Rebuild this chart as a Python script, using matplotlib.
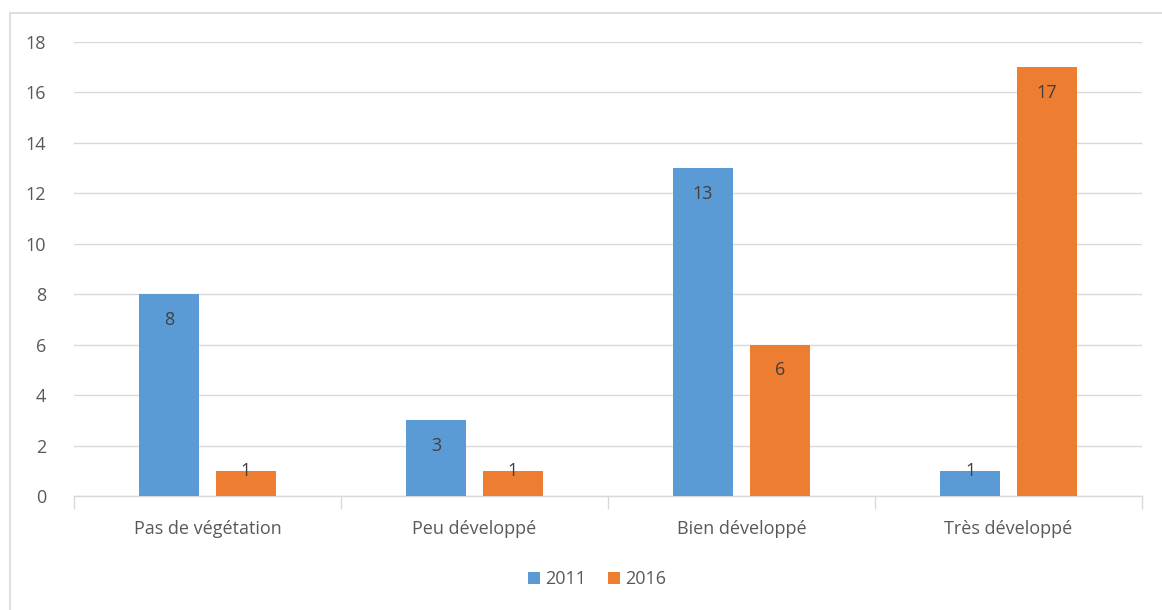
import matplotlib.pyplot as plt
from matplotlib.patches import Rectangle
import numpy as np

categories = ["Pas de végétation", "Peu développé", "Bien développé", "Très développé"]
v2011 = [8, 3, 13, 1]
v2016 = [1, 1, 6, 17]
series_names = ["2011", "2016"]

plt.rcParams['font.family'] = ['Open Sans', 'DejaVu Sans']

fig = plt.figure(figsize=(11.62, 6.1), dpi=100)
ax = fig.add_axes([74 / 1162, 1 - 496 / 610, 1068 / 1162, 454 / 610])

# outer chart border
fig.patches.append(Rectangle((10 / 1162, -0.05), 1.2, 1 - 13 / 610 + 0.05,
                             transform=fig.transFigure, fill=False,
                             edgecolor='#d9d9d9', linewidth=1.2))

x = np.arange(len(categories))
w = 0.225
off = 0.144
b1 = ax.bar(x - off, v2011, w, color='#5b9bd5', zorder=3)
b2 = ax.bar(x + off, v2016, w, color='#ed7d31', zorder=3)

for bars in (b1, b2):
    for r in bars:
        h = r.get_height()
        # short bars: label sits centred on the bar top (no room inside)
        if h < 2:
            xy_off, va = (0, 0), 'center'
        else:
            xy_off, va = (0, -12), 'top'
        ax.annotate(str(int(h)), (r.get_x() + r.get_width() / 2, h),
                    xytext=xy_off, textcoords='offset points',
                    ha='center', va=va, fontsize=13, color='#404040', zorder=4)

ax.set_xlim(-0.5, 3.5)
ax.set_ylim(0, 18)
ax.set_yticks(range(0, 19, 2))
ax.grid(axis='y', color='#d9d9d9', linewidth=1, zorder=0)
for s in ('top', 'right', 'left'):
    ax.spines[s].set_visible(False)
ax.spines['bottom'].set_color('#d9d9d9')
ax.spines['bottom'].set_linewidth(1)

ax.set_xticks(np.arange(-0.5, 4, 1))
ax.set_xticklabels([])
ax.set_xticks(x, minor=True)
ax.set_xticklabels(categories, minor=True)
ax.tick_params(axis='x', which='major', length=9, color='#d9d9d9', width=1)
ax.tick_params(axis='x', which='minor', length=0, pad=17, labelsize=13, labelcolor='#595959')
ax.tick_params(axis='y', length=0, pad=20, labelsize=13, labelcolor='#595959')

leg = fig.legend([b1, b2], series_names, loc='center', bbox_to_anchor=(597 / 1162, 1 - 579 / 610),
                 ncol=2, frameon=False, fontsize=13, handlelength=0.65, handleheight=0.65,
                 handletextpad=0.3, columnspacing=1.2, labelcolor='#595959')

fig.savefig('out.png', dpi=100)
